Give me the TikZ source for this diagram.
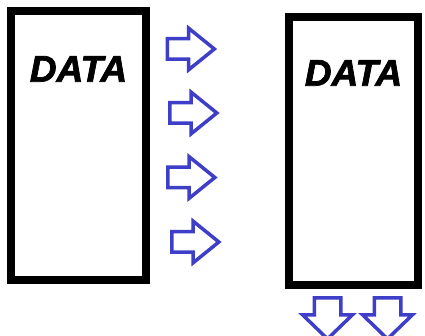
\documentclass[tikz,border=0pt]{standalone}
\usepackage{fontspec}
\newfontfamily\datafont{Liberation Sans}[BoldItalicFeatures={FakeBold=2}]
\usetikzlibrary{
  positioning,
  shapes.arrows,
}
\definecolor{flowblue}{RGB}{62,62,200}
\tikzset{
  store/.style={rectangle,draw,line width=8pt,inner sep=0},
  datatext/.style={inner sep=0,font=\datafont\bfseries\itshape\fontsize{37}{37}\selectfont},
  flow/.style={single arrow,draw=flowblue,line width=3.5pt,inner xsep=0,inner ysep=8.5pt,
    minimum height=47pt,single arrow head extend=10.5pt,single arrow tip angle=78},
  flowdown/.style={single arrow,draw=flowblue,line width=3.5pt,inner xsep=0,inner ysep=11.5pt,
    minimum height=41pt,single arrow head extend=11.5pt,single arrow tip angle=92,rotate=-90},
}

\begin{document}
\begin{tikzpicture}[x=1pt,y=1pt]

        \useasboundingbox (0,0) rectangle (425,336);

        \node[store,minimum width=135pt,minimum height=269pt] (sender) at (78.5,190.5) {};
        \node[store,minimum width=129pt,minimum height=268pt] (receiver) at (353.5,185) {};

        \node[datatext] (senderdata) [below=49pt of sender.north] {DATA};
        \node[datatext] (receiverdata) [below=47pt of receiver.north] {DATA};

        \node[flow] (packet1) at (184.5,287) {};
        \node[flow] (packet2) at (187,223) {};
        \node[flow] (packet3) at (185,158.5) {};
        \node[flow] (packet4) at (189,94) {};

        \node[flowdown] (out1) at (327.5,24) {};
        \node[flowdown] (out2) at (387.5,24) {};

      \end{tikzpicture}
\end{document}
